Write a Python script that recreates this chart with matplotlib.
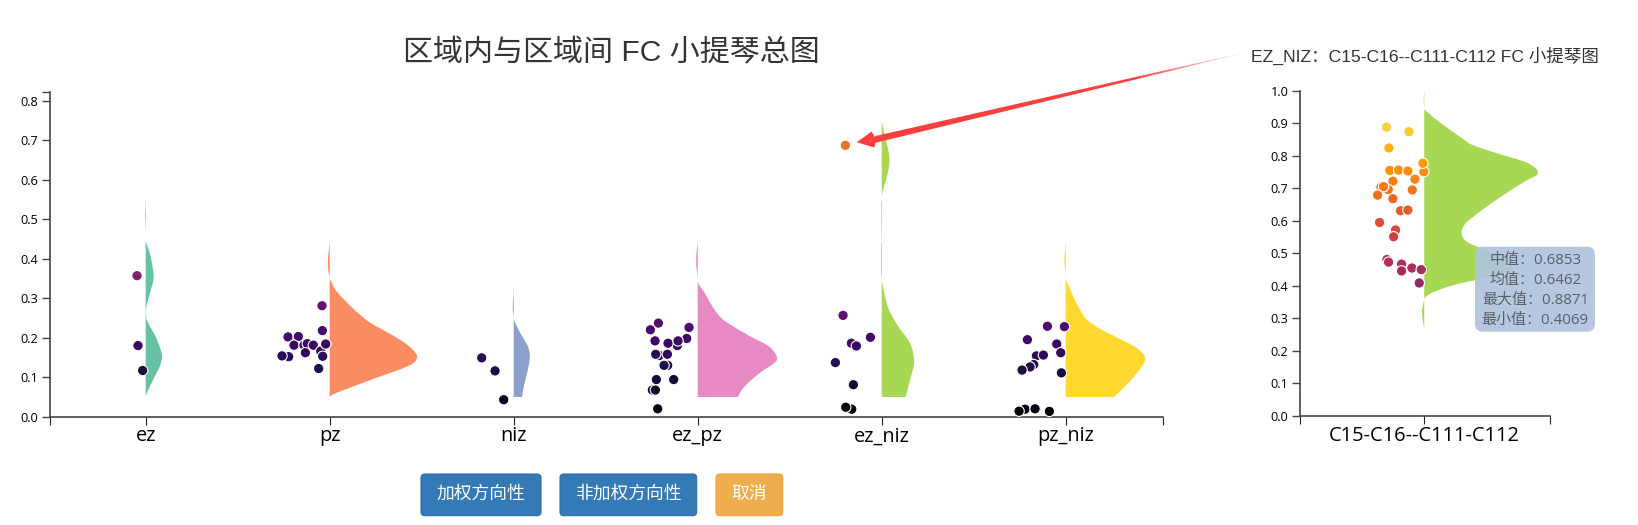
#!/usr/bin/env python3
"""Half violins with jittered points for regional FC, plus one detail violin."""

import matplotlib
matplotlib.use('Agg')
import matplotlib.pyplot as plt
from matplotlib.patches import FancyBboxPatch, PathPatch, Polygon
from matplotlib.path import Path

CJK = ['Liberation Sans', 'Noto Sans CJK SC', 'DejaVu Sans']
AXIS_FONT = ['Open Sans', 'Noto Sans CJK SC', 'DejaVu Sans']
W, H = 1638, 525

categories = ['ez', 'pz', 'niz', 'ez_pz', 'ez_niz', 'pz_niz']
colors = ['#66c2a5', '#fc8d62', '#8da0cb', '#e78ac3', '#a6d854', '#ffd92f']
y_ticks = [0.0, 0.1, 0.2, 0.3, 0.4, 0.5, 0.6, 0.7, 0.8]
detail_ticks = [0.0, 0.1, 0.2, 0.3, 0.4, 0.5, 0.6, 0.7, 0.8, 0.9, 1.0]

# jitter and violin widths are read in 1/552 of a band (main) and 1/750 (detail)
MAIN_UNIT = 552
DETAIL_UNIT = 750

# points
ez_y = [0.357, 0.180, 0.117]
ez_dx = [-26, -23, -9]
pz_y = [0.281, 0.218, 0.202, 0.203, 0.181, 0.181, 0.185, 0.181, 0.166, 0.162, 0.152, 0.154, 0.153, 0.122, 0.184]
pz_dx = [-23, -22, -125, -94, -107, -77, -67, -49, -27, -73, -123, -143, -21, -33, -12]
niz_y = [0.149, 0.116, 0.043]
niz_dx = [-96, -56, -30]
ez_pz_y = [0.237, 0.220, 0.226, 0.198, 0.180, 0.192, 0.186, 0.192, 0.155, 0.158, 0.158, 0.130, 0.130, 0.094, 0.094, 0.0675, 0.0675, 0.020]
ez_pz_dx = [-118, -142, -26, -33, -61, -128, -89, -59, -115, -126, -91, -90, -101, -124, -72, -136, -127, -120]
ez_niz_y = [0.687, 0.2565, 0.201, 0.186, 0.179, 0.137, 0.081, 0.019, 0.024]
ez_niz_dx = [-109, -116, -34, -91, -76, -139, -85, -90, -108]
pz_niz_y = [0.229, 0.228, 0.195, 0.184, 0.162, 0.154, 0.156, 0.132, 0.126, 0.118, 0.111, 0.019, 0.020, 0.014, 0.0135]
pz_niz_dx = [-55, -4, -115, -27, -15, -88, -67, -96, -107, -131, -13, -122, -92, -140, -49]

# violin outlines
ez_vy = [0.550, 0.510, 0.468, 0.460, 0.449, 0.405, 0.354, 0.320, 0.278, 0.251, 0.236, 0.2025, 0.177, 0.152, 0.127, 0.093, 0.050]
ez_vw = [0, -2, 0, 0, 0, 15, 24, 15, 2, 2, 8, 30, 42, 49, 42, 22, 0]
pz_vy = [0.451, 0.400, 0.375, 0.350, 0.346, 0.316, 0.274, 0.240, 0.215, 0.190, 0.169, 0.152, 0.135, 0.118, 0.089, 0.050]
pz_vw = [0, -5, -5, 0, 2, 22, 70, 118, 170, 220, 250, 262, 250, 205, 110, 0]
niz_vy = [0.325, 0.278, 0.249, 0.245, 0.219, 0.177, 0.148, 0.110, 0.076, 0.050]
niz_vw = [0, -3, 0, 1, 15, 43, 48, 40, 30, 25]
ez_pz_vy = [0.451, 0.392, 0.346, 0.312, 0.278, 0.249, 0.224, 0.2025, 0.177, 0.150, 0.135, 0.110, 0.076, 0.050]
ez_pz_vw = [0, -5, 0, 22, 45, 72, 115, 160, 215, 238, 228, 185, 140, 120]
ez_niz_vy = [0.751, 0.709, 0.658, 0.616, 0.557, 0.545, 0.540, 0.456, 0.450, 0.440, 0.435, 0.363, 0.350, 0.312, 0.270, 0.228, 0.186, 0.139, 0.093, 0.050]
ez_niz_vw = [0, 10, 23, 18, 0, 0, -2, -1, 0, 0, -2, -2, 0, 8, 22, 50, 85, 97, 85, 72]
pz_niz_vy = [0.451, 0.392, 0.354, 0.325, 0.283, 0.249, 0.224, 0.198, 0.173, 0.149, 0.127, 0.089, 0.050]
pz_niz_vw = [0, -4, 0, 12, 35, 60, 100, 160, 215, 238, 228, 192, 145]

points_y = [ez_y, pz_y, niz_y, ez_pz_y, ez_niz_y, pz_niz_y]
points_dx = [ez_dx, pz_dx, niz_dx, ez_pz_dx, ez_niz_dx, pz_niz_dx]
violins_y = [ez_vy, pz_vy, niz_vy, ez_pz_vy, ez_niz_vy, pz_niz_vy]
violins_w = [ez_vw, pz_vw, niz_vw, ez_pz_vw, ez_niz_vw, pz_niz_vw]

# detail panel
detail_label = 'C15-C16--C111-C112'
detail_color = '#a6d854'
detail_y = [0.888, 0.874, 0.824, 0.755, 0.756, 0.753, 0.728, 0.722, 0.696, 0.695, 0.703, 0.705,
            0.679, 0.668, 0.631, 0.633, 0.595, 0.572, 0.551, 0.481, 0.473, 0.467, 0.455, 0.446,
            0.450, 0.409, 0.751, 0.777]
detail_dx = [-113, -46, -106, -103, -77, -49, -28, -94, -108, -36, -130, -122,
             -140, -94, -71, -49, -134, -86, -92, -112, -107, -68, -37, -68,
             -9, -15, -1, -4]
detail_vy = [1.002, 0.970, 0.946, 0.941, 0.900, 0.853, 0.833, 0.807, 0.782, 0.761, 0.741, 0.720, 0.674,
             0.623, 0.587, 0.556, 0.531, 0.505, 0.474, 0.449, 0.428, 0.403, 0.377, 0.357, 0.346, 0.316, 0.264]
detail_vw = [0, -2, 0, 2, 50, 115, 145, 220, 300, 335, 338, 300, 230,
             160, 120, 113, 135, 200, 255, 262, 200, 90, 20, 0, -3, -7, 0]

tooltip_lines = ['中值：0.6853', '均值：0.6462', '最大值：0.8871', '最小值：0.4069']


def px_axes(fig, left, top, right, bottom):
    return fig.add_axes([left / W, 1 - bottom / H, (right - left) / W, (bottom - top) / H])


def style_axis(ax, xticks, xlabels, yticks, ylabels):
    for side in ('top', 'right'):
        ax.spines[side].set_visible(False)
    for side in ('left', 'bottom'):
        ax.spines[side].set_color('#444444')
        ax.spines[side].set_linewidth(1.2)
    ax.set_xticks(xticks, xlabels, fontsize=14.4, family=AXIS_FONT, color='black')
    ax.set_yticks(yticks, ylabels, fontsize=9.2, family=AXIS_FONT, color='black')
    ax.tick_params(axis='x', length=5.5, width=0.8, pad=1.5, color='#222222')
    ax.tick_params(axis='y', length=5.8, width=1.0, pad=2.5, color='#444444')


def draw_violin(ax, center, vy, vw, unit, color):
    # outline goes through the read points as a smooth curve, like the d3 area
    xs = [center + w / unit for w in vw]
    verts = [(center, vy[0]), (xs[0], vy[0])]
    codes = [Path.MOVETO, Path.LINETO]
    n = len(xs)
    for i in range(n - 1):
        prev_i, next_i = max(i - 1, 0), min(i + 2, n - 1)
        dx0 = 0 if vw[i] == 0 else (xs[i + 1] - xs[prev_i]) / 6
        dx1 = 0 if vw[i + 1] == 0 else (xs[next_i] - xs[i]) / 6
        dy0 = (vy[i + 1] - vy[prev_i]) / 6
        dy1 = (vy[next_i] - vy[i]) / 6
        verts += [(xs[i] + dx0, vy[i] + dy0), (xs[i + 1] - dx1, vy[i + 1] - dy1), (xs[i + 1], vy[i + 1])]
        codes += [Path.CURVE4] * 3
    verts += [(center, vy[-1]), (center, vy[0])]
    codes += [Path.LINETO, Path.CLOSEPOLY]
    ax.add_patch(PathPatch(Path(verts, codes), facecolor=color, edgecolor='none', lw=0))


def draw_points(ax, center, ys, dxs, unit):
    xs = [center + d / unit for d in dxs]
    ax.scatter(xs, ys, c=ys, cmap='inferno', vmin=0, vmax=1, s=56,
               edgecolors='white', linewidths=0.8, clip_on=False, zorder=3)


fig = plt.figure(figsize=(W / 100, H / 100), dpi=100, facecolor='white')

# main panel
ax = px_axes(fig, 50, 91.7, 1162.7, 416.7)
x0, x1 = -0.520, 5.527
y_top = 0.8228
ax.set_xlim(x0, x1)
ax.set_ylim(0, y_top)
for i in range(len(categories)):
    draw_violin(ax, i, violins_y[i], violins_w[i], MAIN_UNIT, colors[i])
    draw_points(ax, i, points_y[i], points_dx[i], MAIN_UNIT)
style_axis(ax, [x0] + list(range(len(categories))) + [x1], [''] + categories + [''],
           y_ticks + [y_top], [f'{v:.1f}' for v in y_ticks] + [''])

# detail panel
ax2 = px_axes(fig, 1300, 90.7, 1550, 416)
ax2.set_xlim(-0.497, 0.503)
ax2.set_ylim(0, 1.0)
draw_violin(ax2, 0, detail_vy, detail_vw, DETAIL_UNIT, detail_color)
draw_points(ax2, 0, detail_y, detail_dx, DETAIL_UNIT)
style_axis(ax2, [-0.497, 0, 0.503], ['', detail_label, ''], detail_ticks, [f'{v:.1f}' for v in detail_ticks])

# overlay in pixel coordinates for titles, arrow, buttons and tooltip
ov = fig.add_axes([0, 0, 1, 1], zorder=10)
ov.set_xlim(0, W)
ov.set_ylim(H, 0)
ov.axis('off')
ov.patch.set_alpha(0)

ov.text(611.5, 52.5, '区域内与区域间 FC 小提琴总图', fontsize=21.6, family=CJK,
        color='#333333', ha='center', va='center')
ov.text(1424.5, 55.5, 'EZ_NIZ：C15-C16--C111-C112 FC 小提琴图', fontsize=12.6, family=CJK,
        color='#333333', ha='center', va='center')

# arrow: tapered shaft, solid near the head, fading out towards the title
tail = (1245.0, 52.5)
neck = (875.0, 139.5)
FADE_START = 0.7


def shaft_point(t):
    half = 3.4 * (1 - t) + 0.3 * t
    return neck[0] + (tail[0] - neck[0]) * t, neck[1] + (tail[1] - neck[1]) * t, half


mx, my, mh = shaft_point(FADE_START)
nx, ny, nh = shaft_point(0.0)
ov.add_patch(Polygon([(nx, ny - nh), (mx, my - mh), (mx, my + mh), (nx, ny + nh)],
                     closed=True, facecolor='#fb3f3f', edgecolor='none'))
steps = 30
for k in range(steps):
    a = FADE_START + (1 - FADE_START) * k / steps
    b = FADE_START + (1 - FADE_START) * (k + 1) / steps
    xa, ya, ha = shaft_point(a)
    xb, yb, hb = shaft_point(b)
    ov.add_patch(Polygon([(xa, ya - ha), (xb, yb - hb), (xb, yb + hb), (xa, ya + ha)],
                         closed=True, facecolor='#fb3f3f', edgecolor='none', alpha=(1 - a) / (1 - FADE_START)))
ov.add_patch(Polygon([(856.7, 142.3), (871.7, 131.5), (876.0, 139.5), (874.5, 147.5)],
                     closed=True, facecolor='#fb3f3f', edgecolor='none'))

# tooltip
ov.add_patch(FancyBboxPatch((1483, 254.7), 104, 69, boxstyle='round,pad=8,rounding_size=8',
                            facecolor='#b0c4de', edgecolor='none', alpha=0.92))
for line, ty in zip(tooltip_lines, [260.5, 280, 300.5, 320]):
    ov.text(1535.3, ty, line, fontsize=10.8, family=AXIS_FONT, color='#5a5f68', ha='center', va='center')

# buttons
buttons = [('加权方向性', 421, 541, '#337ab7', '#2e6da4'),
           ('非加权方向性', 560, 696.7, '#337ab7', '#2e6da4'),
           ('取消', 716, 782.7, '#f0ad4e', '#eea236')]
for label, bx0, bx1, face, edge in buttons:
    ov.add_patch(FancyBboxPatch((bx0 + 4, 478), bx1 - bx0 - 8, 33.7, boxstyle='round,pad=4,rounding_size=4',
                                facecolor=face, edgecolor=edge, linewidth=0.8))
    ov.text((bx0 + bx1) / 2, 494.5, label, fontsize=12.8, family=CJK, color='white', ha='center', va='center')

fig.savefig('out.png', dpi=100)
